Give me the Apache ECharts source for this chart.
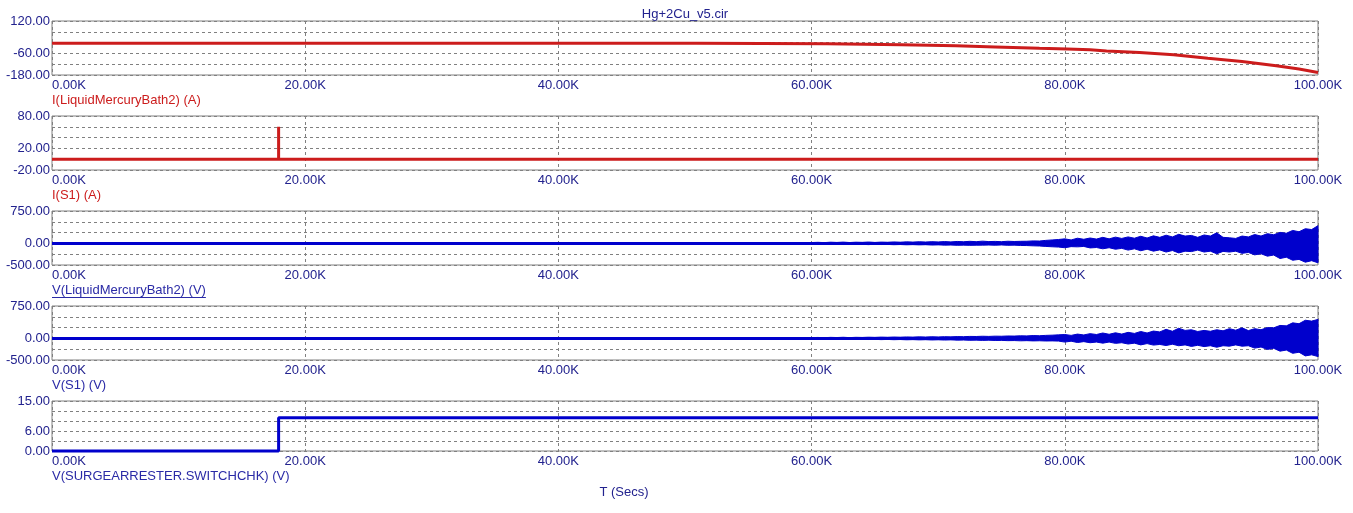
<!DOCTYPE html>
<html>
<head>
<meta charset="utf-8">
<script src="https://cdn.jsdelivr.net/npm/echarts@6/dist/echarts.min.js"></script>
<style>
  html, body { margin: 0; padding: 0; background: #fff; }
  #main { width: 1353px; height: 513px; }
</style>
</head>
<body>
<div id="main"></div>
<script>
// ---- data (time in K seconds) ----
var t1 = [0, 50.9, 50.9, 61.2, 61.2, 67.1, 67.1, 71.4, 71.4, 74.5, 74.5, 78, 80.2, 82, 83.3, 85.9, 88.6, 91.3, 94, 96.7, 98.5, 100];
var i1 = [-3, -3, -7, -7, -12, -12, -18, -18, -24, -24, -29, -31, -35, -40, -46, -55, -68, -87, -105, -129, -147, -166];

var t2 = [0, 17.9, 17.9, 17.9, 100];
var i2 = [0, 0, 60, 0, 0];

var t5 = [0, 17.9, 17.9, 100];
var v5 = [0, 0, 10, 10];

var tBase = [0, 100];
var vBase = [0, 0];

// noise envelope sample times
var tN = [30, 32, 34, 36, 38, 40, 42, 44, 46, 48, 50, 52, 54, 56, 58,
  60, 60.5, 61, 61.5, 62, 62.5, 63, 63.5, 64, 64.5, 65, 65.5, 66, 66.5, 67, 67.5, 68, 68.5, 69, 69.5,
  70, 70.5, 71, 71.5, 72, 72.5, 73, 73.5, 74, 74.5, 75, 75.5, 76, 76.5, 77, 77.5, 78, 78.5, 79, 79.5,
  80, 80.5, 81, 81.5, 82, 82.5, 83, 83.5, 84, 84.5, 85, 85.5, 86, 86.5, 87, 87.5, 88, 88.5, 89, 89.5,
  90, 90.5, 91, 91.5, 92, 92.5, 93, 93.5, 94, 94.5, 95, 95.5, 96, 96.5, 97, 97.5, 98, 98.5, 99, 99.5, 100];

// V(LiquidMercuryBath2) envelope
var up3 = [0, 8, 10, 6, 12, 10, 8, 12, 6, 10, 5, 8, 5, 6, 8,
  20, 25, 18, 28, 22, 30, 20, 28, 24, 32, 22, 30, 26, 34, 28, 36, 30, 38, 32, 40,
  34, 42, 35, 45, 38, 48, 40, 52, 42, 46, 40, 50, 44, 48, 50, 58, 55, 70, 80, 90,
  105, 80, 120, 95, 125, 100, 140, 105, 145, 115, 150, 120, 165, 125, 175, 140, 190, 150, 210, 170,
  185, 140, 195, 170, 245, 140, 130, 115, 170, 150, 205, 170, 225, 200, 255, 235, 300, 270, 340, 320, 410];
var lo3 = [0, -8, -6, -10, -8, -12, -6, -10, -8, -6, -5, -6, -5, -6, -8,
  -18, -22, -16, -25, -20, -26, -18, -24, -22, -28, -20, -26, -24, -30, -26, -32, -28, -34, -30, -38,
  -34, -40, -38, -44, -40, -45, -42, -40, -38, -42, -36, -44, -40, -48, -50, -56, -60, -70, -78, -85,
  -100, -75, -80, -70, -105, -95, -125, -100, -135, -115, -155, -125, -170, -135, -180, -150, -200, -165, -220, -180,
  -190, -155, -200, -180, -240, -185, -200, -180, -230, -210, -265, -240, -295, -270, -350, -320, -390, -370, -435, -400, -450];

// V(S1) envelope
var up4 = [0, 6, 8, 5, 8, 10, 6, 8, 5, 8, 6, 5, 6, 5, 8,
  18, 22, 16, 24, 20, 26, 18, 25, 22, 28, 24, 30, 26, 32, 28, 34, 30, 36, 32, 38,
  34, 40, 36, 42, 40, 46, 44, 50, 46, 52, 50, 56, 54, 60, 58, 66, 62, 70, 75, 82,
  90, 70, 100, 80, 110, 90, 125, 95, 130, 100, 140, 115, 160, 125, 170, 150, 210, 165, 235, 185,
  200, 160, 185, 165, 200, 175, 225, 190, 245, 180, 225, 200, 250, 245, 300, 290, 360, 340, 420, 400, 440];
var lo4 = [0, -5, -8, -6, -5, -8, -6, -8, -5, -6, -4, -5, -6, -5, -6,
  -16, -20, -15, -22, -18, -24, -16, -22, -20, -26, -22, -28, -24, -30, -26, -32, -28, -34, -30, -36,
  -32, -38, -34, -40, -38, -44, -40, -46, -42, -48, -46, -52, -50, -56, -52, -58, -55, -60, -58, -62,
  -85, -65, -95, -75, -100, -85, -110, -85, -115, -100, -130, -110, -150, -120, -155, -140, -165, -135, -170, -150,
  -185, -160, -190, -170, -205, -170, -180, -150, -180, -170, -225, -200, -255, -230, -295, -270, -345, -320, -405, -380, -420];

// y axis ranges and shown tick labels
var yMin = [-180, -20, -500, -500, 0];
var yMax = [120, 80, 750, 750, 15];
var yStep = [60, 20, 250, 250, 3];
var yShown = [[120, -60, -180], [80, 20, -20], [750, 0, -500], [750, 0, -500], [15, 6, 0]];

var names = ['I(LiquidMercuryBath2) (A)', 'I(S1) (A)', 'V(LiquidMercuryBath2) (V)', 'V(S1) (V)', 'V(SURGEARRESTER.SWITCHCHK) (V)'];

var RED = '#cc1c1c';
var BLUE = '#0000cc';
var NAVY = '#22228e';
var FONT = '"Liberation Sans", Arial, sans-serif';

var tops = [21, 116, 211, 306, 401];
var heights = [54, 54, 54, 54, 50];
var nameColors = [RED, RED, '#2a2aa6', '#2a2aa6', '#2a2aa6'];

function pairs(xs, ys) {
    var out = [];
    for (var i = 0; i < xs.length; i++) out.push([xs[i], ys[i]]);
    return out;
}

var myChart = echarts.init(document.getElementById('main'), null, { renderer: 'canvas' });

var grids = [], xAxes = [], yAxes = [];
for (var g = 0; g < 5; g++) {
    grids.push({
        left: 52, right: 35, top: tops[g], height: heights[g],
        show: true, borderColor: '#808080', borderWidth: 1, backgroundColor: '#fff'
    });
    xAxes.push({
        type: 'value', gridIndex: g, min: 0, max: 100, interval: 20,
        axisLine: { show: false }, axisTick: { show: false },
        axisLabel: {
            color: NAVY, fontFamily: FONT, fontSize: 13, margin: 4,
            alignMinLabel: 'left',
            formatter: function(v) { return v.toFixed(2) + 'K'; }
        },
        splitLine: { show: true, lineStyle: { color: '#808080', type: [3, 3], width: 1 } }
    });
    (function(shown) {
        yAxes.push({
            type: 'value', gridIndex: g, min: yMin[g], max: yMax[g], interval: yStep[g],
            axisLine: { show: false }, axisTick: { show: false },
            axisLabel: {
                color: NAVY, fontFamily: FONT, fontSize: 13, margin: 2,
                formatter: function(v) { return shown.indexOf(v) >= 0 ? v.toFixed(2) : ''; }
            },
            splitLine: { show: true, lineStyle: { color: '#808080', type: [3, 3], width: 1 } }
        });
    })(yShown[g]);
}

function noiseSeries(g, up, lo) {
    return {
        type: 'custom', xAxisIndex: g, yAxisIndex: g, clip: false, silent: true,
        data: tN.map(function(t, i) { return [t, up[i], lo[i]]; }),
        encode: { x: 0, y: [1, 2] },
        renderItem: function(params, api) {
            if (params.dataIndex !== 0) return null;
            var pts = [];
            for (var i = 0; i < tN.length; i++) pts.push(api.coord([tN[i], up[i]]));
            for (var j = tN.length - 1; j >= 0; j--) pts.push(api.coord([tN[j], lo[j]]));
            return {
                type: 'polygon', shape: { points: pts },
                style: { fill: BLUE, stroke: BLUE, lineWidth: 1 }
            };
        }
    };
}

function lineSeries(g, xs, ys, color) {
    return {
        type: 'line', xAxisIndex: g, yAxisIndex: g, data: pairs(xs, ys),
        showSymbol: false, clip: false, silent: true, animation: false,
        lineStyle: { color: color, width: 3, join: 'bevel' }
    };
}

var series = [
    lineSeries(0, t1, i1, RED),
    lineSeries(1, t2, i2, RED),
    lineSeries(2, tBase, vBase, BLUE),
    noiseSeries(2, up3, lo3),
    lineSeries(3, tBase, vBase, BLUE),
    noiseSeries(3, up4, lo4),
    lineSeries(4, t5, v5, BLUE)
];

// text width for the underline under the selected trace name
var cv = document.createElement('canvas').getContext('2d');
cv.font = '13px ' + FONT;
var ulWidth = cv.measureText(names[2]).width;

var graphics = [
    { type: 'text', style: { text: 'Hg+2Cu_v5.cir', x: 685, y: 14, align: 'center', verticalAlign: 'middle', fill: NAVY, font: '13px ' + FONT } },
    { type: 'text', style: { text: 'T (Secs)', x: 624, y: 492, align: 'center', verticalAlign: 'middle', fill: NAVY, font: '13px ' + FONT } },
    { type: 'line', shape: { x1: 52, y1: 297.5, x2: 52 + ulWidth, y2: 297.5 }, style: { stroke: '#2a2aa6', lineWidth: 1 } }
];
for (var k = 0; k < 5; k++) {
    graphics.push({
        type: 'text',
        style: { text: names[k], x: 52, y: tops[k] + heights[k] + 25, align: 'left', verticalAlign: 'middle', fill: nameColors[k], font: '13px ' + FONT }
    });
}

var option = {
    animation: false,
    backgroundColor: '#fff',
    grid: grids,
    xAxis: xAxes,
    yAxis: yAxes,
    series: series,
    graphic: graphics
};

myChart.setOption(option);
</script>
</body>
</html>
